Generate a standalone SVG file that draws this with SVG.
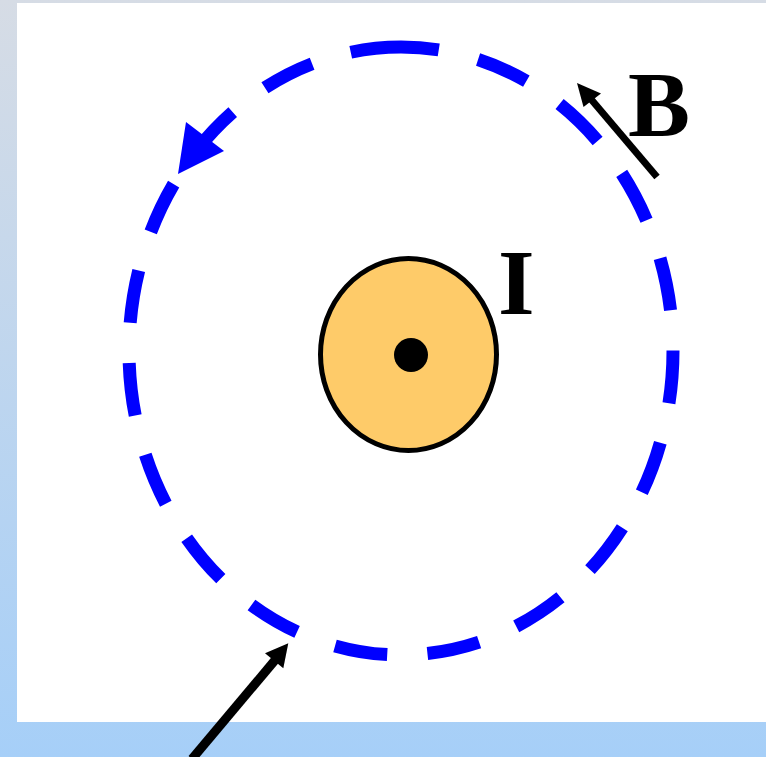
<svg xmlns="http://www.w3.org/2000/svg" width="766" height="757" viewBox="0 0 766 757">
  <defs>
    <linearGradient id="bg" x1="0" y1="0" x2="0" y2="1">
      <stop offset="0" stop-color="#D6DCE5"/>
      <stop offset="1" stop-color="#A6CFF8"/>
    </linearGradient>
    <style>
      .field { fill: none; stroke: #0000FF; stroke-width: 13; stroke-dasharray: 53 40.4; stroke-dashoffset: 15; }
      .blue { fill: #0000FF; }
      .shaft { stroke: #000; fill: none; }
      .head { fill: #000; }
      .lbl { font-family: "Liberation Serif", "Times New Roman", serif; font-weight: bold; fill: #000; }
    </style>
  </defs>
  <rect x="0" y="0" width="766" height="757" fill="url(#bg)"/>
  <rect x="17" y="3" width="749" height="719" fill="#FFFFFF"/>

  <g id="field-line">
    <path class="field" d="M401,47 A272,304 0 1,1 401,655 A272,304 0 1,1 401,47"/>
    <polygon class="blue" points="178,174 186,122 224,151"/>
  </g>

  <g id="wire">
    <ellipse cx="408.5" cy="354.5" rx="88" ry="96" fill="#FECB69" stroke="#000" stroke-width="5"/>
    <circle cx="411" cy="355" r="17" fill="#000"/>
  </g>

  <g id="label-B">
    <text class="lbl" x="628" y="136" font-size="93">B</text>
  </g>
  <g id="label-I">
    <text class="lbl" x="498" y="314" font-size="94">I</text>
  </g>

  <g id="connectors">
    <line class="shaft" x1="657" y1="177" x2="590" y2="98" stroke-width="7"/>
    <polygon class="head" points="577,83 601,93.5 583.5,107"/>
    <line class="shaft" x1="192" y1="759" x2="276" y2="659" stroke-width="9"/>
    <polygon class="head" points="288.3,643.3 265,653.3 283.3,668.3"/>
  </g>
</svg>
